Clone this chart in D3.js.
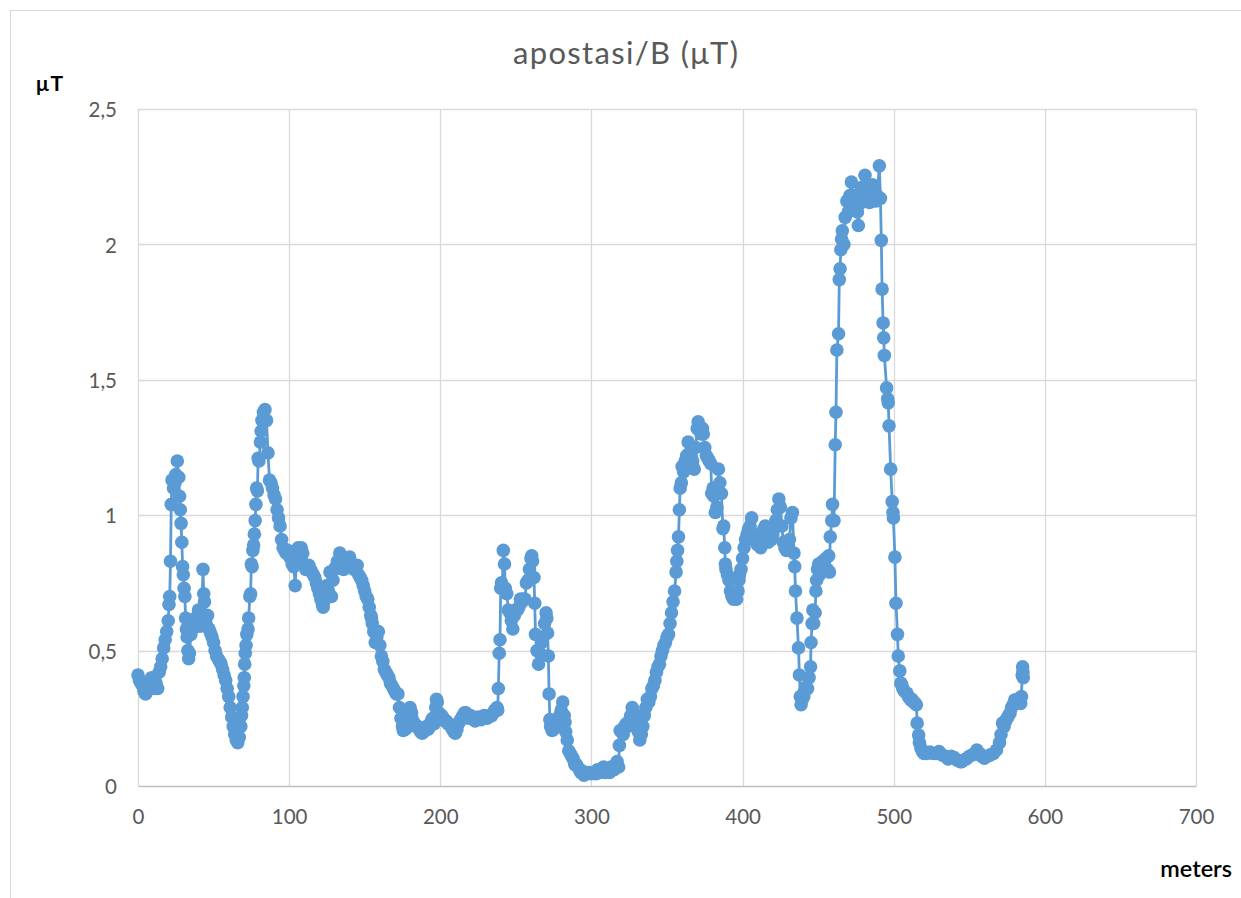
<!DOCTYPE html>
<html><head><meta charset="utf-8">
<script src="https://cdn.jsdelivr.net/npm/d3@7/dist/d3.min.js"></script>
<style>body{margin:0;background:#fff}svg{display:block}</style>
</head><body>
<svg id="c" width="1241" height="898"></svg>
<script>
const chartTitle = "apostasi/B (μT)";
const yAxisTitle = "μT";
const xAxisTitle = "meters";
const xTicks = [0,100,200,300,400,500,600,700];
const yTicks = [0,0.5,1,1.5,2,2.5];
const yTickLabels = ["0","0,5","1","1,5","2","2,5"];

const meters = [0,1,2,3,4,5,6,7,8,9,10,11,12,13,14,15,16,17,18,19,20,20.5,21,21.5,22,22.5,23.5,24.5,25,26,27,27.5,28,28.5,29,29.5,30,30.5,31,31.5,32,32.5,33,33.5,34,35,36,37,38,39,40,41,42,43,43.5,44,45,46,47,48,49,50,51,52,53,54,55,56,57,58,59,60,61,62,63,64,65,66,67,68,68.5,69,69.5,70,70.3,70.6,71,71.5,72,72.8,73.2,74,74.5,75,75.5,76,76.5,77,77.5,78,78.5,79,79.5,80,81,81.5,82,83,84,85,86,87,88,89,90,91,92,93,94,95,96,97,98,99,100,101,102,103,104,105,106,107,108,109,110,111,112,113,114,115,116,117,118,119,120,121,122,122.5,123,124,125,126,127,128,129,130,131,132,133.5,134.5,135.5,136,137,138,139,140,141,142,143,144,145,146,147,148,149,150,151,152,153,154,154.5,155,156,157,158,159,160,161,162,163,164,165,166,167,168,169,170,171,172,173,174,175,175.5,176,177,178,179,180,181,182,183,184,185,186,187,188,189,190,191,192,193,194,195,196,197,197.5,198,199,200,201,202,203,204,205,206,207,208,209,210,211,212,213,214,215,216,217,218,219,220,221,222,223,224,225,226,227,228,229,230,231,232,233,234,235,236,237,237.5,238,238.4,239,239.5,240,240.5,241,241.7,242.5,243,244,245,246,247,248,249,250,251,252,253,254,255,256,257,258,259,260,260.5,261,262,262.5,263,264,265,266,267,268,269,270,270.5,271,271.5,272,272.5,273,274,275,276,277,278,279,280,281,282,282.5,283,284,285,286,287,288,289,290,291,292,293,294,295,296,297,298,299,300,301,302,303,304,305,306,307,308,309,310,311,312,313,314,315,316,317,318,318.5,319,320,321,322,323,324,325,326,327,328,329,330,331,332,333,334,335,336,337,338,339,340,341,342,343,344,345,346,347,348,349,350,351,352,353,354,355,356,356.5,357,357.6,358.2,358.7,359.5,360,361,362,363,364,365,366,367,368,369,370,370.6,371.5,372.5,373.5,374,375,376,377,378,379,379.6,380.5,381,382,383,384,385,386,387,387.5,388.2,388.6,389,390,391,392,393,394,395,396,397,397.6,398,399,400,401,402,403,404,405,406,407,408,409,410,411,412,413,414,415,416,417,418,419,420,421,422,423,424,425,426,427,428,429,430,431,432,433,434,434.5,435,436,437,437.6,438.2,438.7,439.5,440.5,441,442,443,444,445,445.3,446,446.5,447,448,448.5,449,449.6,450.3,451,452,453,454,455,456,457,457.5,458,459,459.5,460.5,461.3,461.8,462.4,463.5,464,464.5,465,465.5,466,467,467.9,469,470,471,472,473,474,475,476,476.6,477.5,478.5,479,480,481,482,483,484,485,486,487,488,489,490.5,491.2,491.8,492.3,493,493.4,493.8,495.3,496,496.4,496.9,498,499,499.5,499.8,500.8,501.5,502.5,503,504,504.7,505.3,506,507,508.7,509.7,511,512,513,514,515,515.5,516.5,517,518,519,520,522,524,526,528,530,532,534,536,538,540,542,544,545,546,548,550,552,554,555,557,558,560,562,564,566,568,570,571,572,573,574,575,576,577,578,579,580,581,582,583,584,584.5,585,585.3,585.5,585.7];

const fieldB = [0.41,0.39,0.38,0.37,0.35,0.34,0.35,0.36,0.38,0.40,0.37,0.36,0.38,0.36,0.42,0.44,0.47,0.51,0.54,0.57,0.61,0.67,0.70,0.83,1.04,1.13,1.10,1.12,1.15,1.20,1.14,1.07,1.02,0.97,0.90,0.81,0.78,0.73,0.70,0.62,0.58,0.55,0.50,0.47,0.49,0.56,0.58,0.60,0.62,0.60,0.65,0.59,0.62,0.80,0.71,0.68,0.60,0.63,0.58,0.565,0.55,0.53,0.50,0.48,0.47,0.46,0.45,0.43,0.41,0.39,0.36,0.33,0.29,0.255,0.22,0.19,0.17,0.16,0.18,0.22,0.26,0.29,0.33,0.37,0.40,0.45,0.49,0.52,0.56,0.58,0.62,0.70,0.71,0.82,0.81,0.87,0.89,0.93,0.98,1.04,1.10,1.09,1.21,1.20,1.27,1.31,1.35,1.38,1.39,1.35,1.23,1.13,1.12,1.10,1.075,1.06,1.02,0.99,0.96,0.91,0.88,0.87,0.86,0.87,0.85,0.84,0.82,0.81,0.74,0.85,0.88,0.87,0.88,0.86,0.82,0.80,0.81,0.815,0.80,0.79,0.78,0.77,0.75,0.73,0.71,0.69,0.67,0.66,0.68,0.70,0.74,0.72,0.79,0.70,0.76,0.80,0.81,0.83,0.86,0.84,0.82,0.80,0.81,0.83,0.82,0.845,0.82,0.81,0.80,0.81,0.815,0.78,0.77,0.76,0.74,0.72,0.70,0.69,0.66,0.63,0.62,0.60,0.57,0.53,0.55,0.57,0.52,0.48,0.46,0.43,0.42,0.41,0.40,0.38,0.37,0.36,0.35,0.34,0.34,0.29,0.25,0.22,0.205,0.24,0.21,0.23,0.26,0.29,0.27,0.24,0.23,0.22,0.22,0.21,0.20,0.195,0.20,0.21,0.22,0.21,0.22,0.24,0.25,0.23,0.29,0.32,0.31,0.27,0.25,0.26,0.25,0.24,0.24,0.23,0.23,0.22,0.21,0.20,0.195,0.21,0.23,0.24,0.25,0.26,0.27,0.27,0.26,0.25,0.26,0.25,0.25,0.24,0.25,0.255,0.25,0.245,0.25,0.26,0.255,0.25,0.255,0.26,0.26,0.27,0.28,0.28,0.29,0.28,0.36,0.49,0.54,0.73,0.75,0.74,0.87,0.82,0.73,0.71,0.65,0.64,0.61,0.58,0.63,0.65,0.65,0.66,0.69,0.68,0.69,0.69,0.75,0.76,0.80,0.84,0.85,0.83,0.77,0.675,0.56,0.50,0.45,0.49,0.53,0.55,0.60,0.64,0.62,0.565,0.48,0.34,0.245,0.22,0.205,0.21,0.22,0.23,0.24,0.26,0.28,0.31,0.26,0.235,0.20,0.17,0.13,0.12,0.11,0.10,0.08,0.08,0.07,0.06,0.05,0.055,0.04,0.05,0.045,0.05,0.05,0.045,0.05,0.05,0.045,0.06,0.05,0.05,0.06,0.07,0.05,0.06,0.06,0.05,0.07,0.065,0.06,0.07,0.09,0.07,0.15,0.205,0.20,0.19,0.22,0.23,0.22,0.24,0.26,0.29,0.27,0.24,0.22,0.20,0.17,0.19,0.22,0.26,0.29,0.32,0.31,0.33,0.36,0.37,0.39,0.42,0.44,0.45,0.48,0.50,0.52,0.53,0.55,0.56,0.60,0.64,0.68,0.72,0.79,0.83,0.87,0.92,1.02,1.10,1.12,1.18,1.16,1.20,1.22,1.27,1.23,1.22,1.20,1.17,1.25,1.32,1.345,1.33,1.30,1.32,1.30,1.25,1.22,1.21,1.20,1.19,1.08,1.10,1.07,1.01,1.03,1.17,1.12,1.08,0.95,0.96,0.88,0.82,0.80,0.78,0.76,0.72,0.70,0.69,0.70,0.69,0.72,0.76,0.78,0.80,0.84,0.88,0.91,0.93,0.95,0.96,0.99,0.93,0.92,0.90,0.89,0.90,0.88,0.92,0.95,0.96,0.93,0.90,0.92,0.91,0.93,0.95,0.98,1.02,1.06,1.03,0.96,0.90,0.88,0.87,0.89,0.91,0.99,1.01,0.86,0.81,0.72,0.62,0.51,0.41,0.33,0.30,0.32,0.33,0.35,0.365,0.36,0.40,0.44,0.53,0.60,0.65,0.60,0.64,0.72,0.76,0.80,0.82,0.78,0.80,0.83,0.82,0.84,0.80,0.85,0.79,0.92,0.98,1.04,0.98,1.26,1.38,1.61,1.67,1.87,1.91,1.98,2.02,2.05,2.00,2.10,2.16,2.12,2.18,2.23,2.18,2.14,2.16,2.12,2.07,2.15,2.21,2.18,2.20,2.255,2.21,2.18,2.155,2.19,2.22,2.18,2.16,2.18,2.29,2.17,2.015,1.835,1.71,1.655,1.59,1.47,1.43,1.415,1.33,1.17,1.05,1.01,0.99,0.845,0.675,0.56,0.48,0.425,0.38,0.375,0.36,0.35,0.343,0.33,0.32,0.32,0.31,0.306,0.30,0.232,0.188,0.16,0.14,0.127,0.12,0.12,0.125,0.12,0.12,0.127,0.115,0.11,0.10,0.11,0.105,0.095,0.09,0.09,0.095,0.10,0.11,0.115,0.12,0.133,0.12,0.11,0.103,0.11,0.115,0.12,0.133,0.16,0.19,0.232,0.22,0.24,0.25,0.26,0.27,0.29,0.30,0.317,0.31,0.32,0.31,0.305,0.33,0.41,0.44,0.42,0.40];

const data = meters.map((m,i)=>({m, v: fieldB[i]}));

const svg = d3.select("#c");
const FONT = "Lato, 'Open Sans', sans-serif";

// outer chart frame
svg.append("rect").attr("x",10.5).attr("y",10.5).attr("width",1240).attr("height",900)
  .attr("fill","#fff").attr("stroke","#d9d9d9").attr("stroke-width",1);

const x = d3.scaleLinear().domain([0,700]).range([138,1196]);
const y = d3.scaleLinear().domain([0,2.5]).range([786,109]);

// gridlines
const grid = svg.append("g");
grid.selectAll("line.v").data(xTicks).join("line")
  .attr("x1",d=>Math.round(x(d))+0.5).attr("x2",d=>Math.round(x(d))+0.5)
  .attr("y1",y(2.5)).attr("y2",y(0))
  .attr("stroke","#d9d9d9").attr("stroke-width",1.3);
grid.selectAll("line.h").data(yTicks.filter(d=>d>0)).join("line")
  .attr("y1",d=>Math.round(y(d))+0.5).attr("y2",d=>Math.round(y(d))+0.5)
  .attr("x1",x(0)).attr("x2",x(700))
  .attr("stroke","#d9d9d9").attr("stroke-width",1.3);

// axes
const xAxis = d3.axisBottom(x).tickValues(xTicks).tickSize(0).tickPadding(23).tickFormat(d3.format("d"));
const gx = svg.append("g").attr("transform",`translate(0,${y(0)})`).call(xAxis);
gx.select(".domain").attr("stroke","#bfbfbf").attr("stroke-width",1.5);
gx.selectAll("text").attr("fill","#595959").style("font-family",FONT).style("font-size","20.5px");

const yAxis = d3.axisLeft(y).tickValues(yTicks).tickSize(0).tickPadding(21)
  .tickFormat((d,i)=>yTickLabels[i]);
const gy = svg.append("g").attr("transform",`translate(${x(0)},0)`).call(yAxis);
gy.select(".domain").remove();
gy.selectAll("text").attr("fill","#595959").style("font-family",FONT).style("font-size","20.5px")
  .attr("dy","0.38em");

// series line
svg.append("path").datum(data)
  .attr("fill","none").attr("stroke","#5b9bd5").attr("stroke-width",2.8)
  .attr("stroke-linejoin","round")
  .attr("d", d3.line().x(d=>x(d.m)).y(d=>y(d.v)));

// markers
svg.append("g").selectAll("circle").data(data).join("circle")
  .attr("cx",d=>x(d.m)).attr("cy",d=>y(d.v)).attr("r",6.8)
  .attr("fill","#5b9bd5");

// titles
svg.append("text").attr("x",625.5).attr("y",64).attr("text-anchor","middle")
  .attr("fill","#595959").style("font-family",FONT).style("font-size","31px")
  .attr("textLength",225).attr("lengthAdjust","spacing")
  .text(chartTitle);
svg.append("text").attr("x",36).attr("y",91)
  .attr("fill","#000").style("font-family",FONT).style("font-size","21px").style("font-weight","bold")
  .attr("textLength",27).attr("lengthAdjust","spacing")
  .text(yAxisTitle);
svg.append("text").attr("x",1232).attr("y",877).attr("text-anchor","end")
  .attr("fill","#000").style("font-family",FONT).style("font-size","23.5px").style("font-weight","600")
  .text(xAxisTitle);
</script>
</body></html>
